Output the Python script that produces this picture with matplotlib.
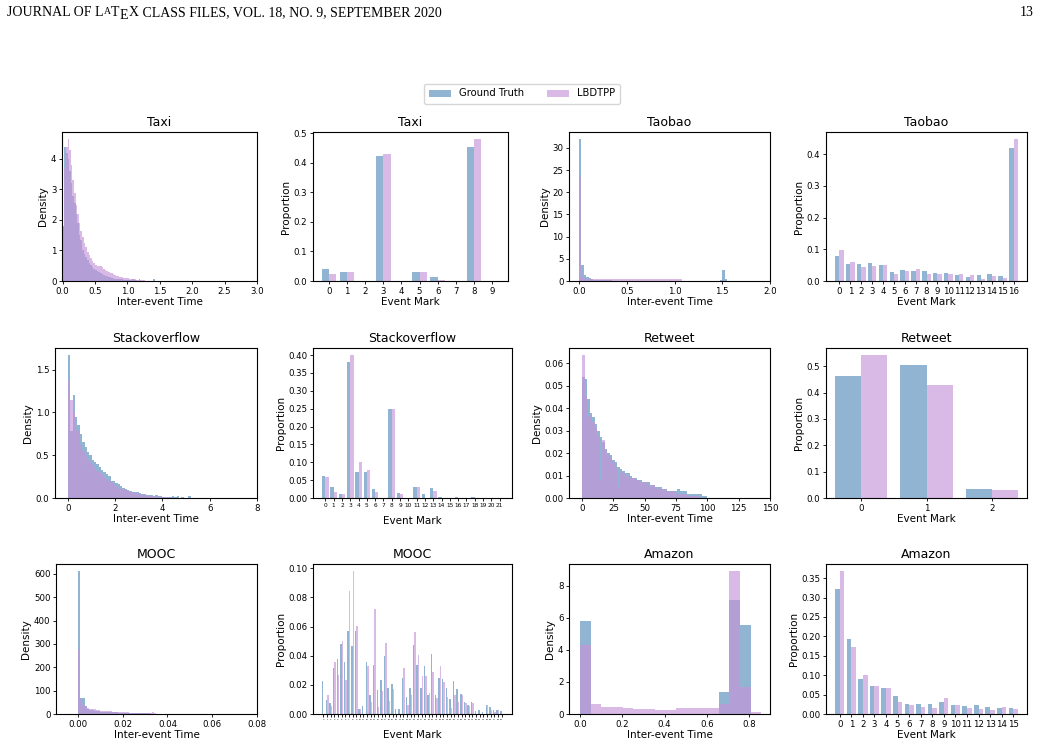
import numpy as np
import matplotlib
matplotlib.use("Agg")
import matplotlib.pyplot as plt
from matplotlib.patches import Patch
from matplotlib.ticker import MultipleLocator

# ── data ───────────────────────────────────────────────────────────────────────
# inter-event time histograms (density per bin, bins start at 0)
taxi_dt_w = 0.025
taxi_dt_gt = [1.8, 4.4, 4.2, 4.0, 3.6, 3.2, 2.8, 2.55, 2.2, 1.9, 1.5, 1.35, 1.0, 0.9, 0.8,
              0.7, 0.6, 0.52, 0.46, 0.4, 0.36, 0.32, 0.28, 0.25, 0.22, 0.2, 0.17, 0.15, 0.13,
              0.12, 0.1, 0.09, 0.08, 0.07, 0.06, 0.06, 0.05, 0.04, 0.04, 0.03, 0.03, 0.02,
              0.03, 0.05, 0.02, 0.02, 0.01, 0.05, 0.01, 0.01, 0.01, 0.01, 0.01, 0.01, 0.01,
              0.01, 0.05]
taxi_dt_lb = [0.5, 3.7, 4.4, 4.65, 4.3, 3.8, 3.3, 2.9, 2.5, 2.2, 1.9, 1.65, 1.45, 1.25, 1.1,
              0.95, 0.85, 0.75, 0.65, 0.6, 0.52, 0.5, 0.48, 0.5, 0.45, 0.4, 0.35, 0.33, 0.3,
              0.27, 0.25, 0.22, 0.2, 0.17, 0.15, 0.13, 0.12, 0.11, 0.1, 0.1, 0.09, 0.08, 0.07,
              0.06, 0.05, 0.04, 0.04, 0.03, 0.02, 0.02, 0.02, 0.01]

taobao_dt_w = 0.025
taobao_dt_gt = [32, 3.7, 1.4, 1.0, 0.6, 0.4, 0.3, 0.25, 0.2, 0.18, 0.15, 0.15, 0.12, 0.12,
                0.1, 0.1, 0.1, 0.1, 0.1, 0.1, 0.1, 0.1, 0.1, 0.1, 0.1, 0.1, 0.1, 0.1, 0.1,
                0.1, 0.1, 0.1, 0.1, 0.1, 0.1, 0.1, 0.1, 0.1, 0.1, 0.1, 0.1, 0.1, 0.1, 0.05,
                0.05, 0.05, 0.05, 0.05, 0.05, 0.05, 0.05, 0.05, 0.05, 0.05, 0.05, 0.05, 0.05,
                0.05, 0.05, 0.3, 2.5, 0.45]
taobao_dt_lb = [23.5, 0.9, 0.6, 0.55, 0.5, 0.55, 0.5, 0.45, 0.5, 0.45, 0.5, 0.55, 0.45, 0.5,
                0.5, 0.55, 0.5, 0.45, 0.5, 0.55, 0.5, 0.45, 0.55, 0.5, 0.5, 0.45, 0.5, 0.45,
                0.5, 0.45, 0.4, 0.45, 0.4, 0.45, 0.4, 0.4, 0.4, 0.4, 0.35, 0.4, 0.35, 0.4, 0.35]

so_dt_w = 0.1
so_dt_gt = [1.67, 0.78, 1.2, 0.95, 0.85, 0.75, 0.66, 0.6, 0.54, 0.5, 0.45, 0.42, 0.4, 0.36,
            0.33, 0.3, 0.28, 0.26, 0.2, 0.2, 0.18, 0.16, 0.14, 0.12, 0.1, 0.09, 0.08, 0.075,
            0.07, 0.065, 0.06, 0.05, 0.045, 0.04, 0.035, 0.03, 0.025, 0.03, 0.02, 0.02, 0.015,
            0.01, 0.01, 0.01, 0.02, 0.01, 0.02, 0.005, 0.01, 0.005, 0.005, 0.02]
so_dt_lb = [1.37, 1.15, 1.0, 0.8, 0.78, 0.62, 0.55, 0.5, 0.45, 0.42, 0.4, 0.36, 0.32, 0.3,
            0.28, 0.25, 0.22, 0.2, 0.18, 0.16, 0.14, 0.12, 0.11, 0.1, 0.09, 0.08, 0.07, 0.065,
            0.06, 0.05, 0.045, 0.04, 0.035, 0.03, 0.025, 0.02, 0.02, 0.015, 0.015, 0.01, 0.01,
            0.01, 0.008, 0.005]

rt_dt_w = 2.0
rt_dt_gt = [0.054, 0.053, 0.044, 0.038, 0.036, 0.033, 0.03, 0.027, 0.025, 0.022, 0.02, 0.019,
            0.017, 0.016, 0.014, 0.013, 0.012, 0.011, 0.011, 0.01, 0.009, 0.009, 0.008, 0.008,
            0.007, 0.007, 0.007, 0.006, 0.006, 0.005, 0.005, 0.005, 0.004, 0.004, 0.003, 0.003,
            0.003, 0.003, 0.004, 0.003, 0.003, 0.003, 0.002, 0.002, 0.002, 0.002, 0.002, 0.002,
            0.001, 0.001]
rt_dt_lb = [0.0635, 0.045, 0.036, 0.037, 0.034, 0.031, 0.027, 0.008, 0.026, 0.021, 0.019, 0.018,
            0.016, 0.014, 0.005, 0.012, 0.011, 0.01, 0.01, 0.009, 0.009, 0.008, 0.008, 0.007,
            0.007, 0.007, 0.006, 0.005, 0.006, 0.005, 0.004, 0.004, 0.004, 0.003, 0.003, 0.003,
            0.003, 0.002, 0.002, 0.002, 0.002, 0.002, 0.001, 0.001, 0.001, 0.001, 0.001]

mooc_dt_w = 0.001
mooc_dt_gt = [612, 70, 70, 35, 22, 18, 15, 13, 12, 11, 10, 10, 9, 9, 8, 8, 7, 7, 6, 6, 6, 5, 5,
              5, 4, 4, 4, 3, 3, 3, 3, 3, 2, 2, 2]
mooc_dt_lb = [275, 65, 40, 28, 25, 22, 20, 20, 18, 16, 14, 13, 12, 12, 11, 10, 10, 10, 9, 9, 8,
              7, 7, 6, 6, 6, 5, 5, 4, 4, 4, 3, 4, 8, 3]

amazon_dt_w = 0.0504
amazon_dt_gt = [5.8, 0, 0, 0, 0, 0, 0, 0, 0, 0, 0, 0, 0, 1.35, 7.1, 5.55, 0]
amazon_dt_lb = [4.3, 0.6, 0.42, 0.42, 0.35, 0.3, 0.3, 0.22, 0.22, 0.35, 0.35, 0.35, 0.4, 0.6,
                8.9, 1.7, 0.1]

# event mark proportions
taxi_mk_gt = [0.042, 0.032, 0, 0.422, 0, 0.032, 0.012, 0, 0.453, 0]
taxi_mk_lb = [0.025, 0.029, 0, 0.429, 0, 0.032, 0.004, 0, 0.480, 0]

taobao_mk_gt = [0.079, 0.054, 0.054, 0.057, 0.051, 0.029, 0.035, 0.032, 0.032, 0.026, 0.026,
                0.020, 0.013, 0.020, 0.022, 0.016, 0.419]
taobao_mk_lb = [0.098, 0.060, 0.044, 0.048, 0.051, 0.022, 0.032, 0.038, 0.022, 0.022, 0.022,
                0.022, 0.019, 0.006, 0.016, 0.010, 0.447]

so_mk_gt = [0.063, 0.030, 0.010, 0.380, 0.072, 0.072, 0.024, 0, 0.249, 0.015, 0, 0.032, 0.010,
            0.027, 0.004, 0.001, 0.004, 0.001, 0.004, 0.001, 0.001, 0.001]
so_mk_lb = [0.058, 0.018, 0.012, 0.400, 0.100, 0.078, 0.018, 0, 0.249, 0.012, 0, 0.030, 0,
            0.021, 0, 0, 0, 0, 0, 0, 0, 0]

rt_mk_gt = [0.462, 0.504, 0.036]
rt_mk_lb = [0.542, 0.428, 0.029]

mooc_mk_gt = [0.0225, 0.0095, 0.0075, 0.0315, 0.0375, 0.048, 0.0355, 0.057, 0.0465, 0.057,
              0.0037, 0.0058, 0.0355, 0.0127, 0.0335, 0.0162, 0.023, 0.040, 0.0175, 0.0205,
              0.0037, 0.0037, 0.025, 0.012, 0.0175, 0.047, 0.0335, 0.018, 0.0328, 0.0127,
              0.041, 0.0127, 0.025, 0.024, 0.018, 0.010, 0.0225, 0.017, 0.0135, 0.0085,
              0.006, 0.0085, 0.002, 0.0025, 0.0015, 0.006, 0.0045, 0.0025, 0.003, 0.002]
mooc_mk_lb = [0.0, 0.013, 0.0055, 0.0355, 0.0265, 0.050, 0.023, 0.0845, 0.098, 0.0605,
              0.0037, 0.0, 0.033, 0.0085, 0.072, 0.005, 0.016, 0.0485, 0.009, 0.017,
              0.0, 0.0, 0.0315, 0.0065, 0.0127, 0.056, 0.0403, 0.0258, 0.026, 0.0143,
              0.0285, 0.0107, 0.0328, 0.022, 0.012, 0.004, 0.0127, 0.008, 0.013, 0.0075,
              0.0055, 0.0075, 0.0, 0.0, 0.0, 0.006, 0.003, 0.0015, 0.0025, 0.0]

amazon_mk_gt = [0.323, 0.194, 0.090, 0.072, 0.068, 0.046, 0.025, 0.025, 0.025, 0.030, 0.022,
                0.020, 0.022, 0.018, 0.015, 0.015]
amazon_mk_lb = [0.368, 0.172, 0.100, 0.072, 0.066, 0.030, 0.022, 0.018, 0.015, 0.040, 0.022,
                0.015, 0.012, 0.010, 0.018, 0.012]

# ── style ──────────────────────────────────────────────────────────────────────
GT_C, GT_A = "steelblue", 0.6
LB_C, LB_A = (198 / 255, 149 / 255, 217 / 255), 0.65
TITLE_FS, LABEL_FS, TICK_FS = 9, 7.5, 6.2

W, H = 1041, 748
fig = plt.figure(figsize=(W / 100, H / 100), dpi=100)


def add_ax(left, right, top, bottom):
    return fig.add_axes([left / W, 1 - bottom / H, (right - left) / W, (bottom - top) / H])


def style(ax, title, xlabel, ylabel):
    ax.set_title(title, fontsize=TITLE_FS, pad=4)
    ax.set_xlabel(xlabel, fontsize=LABEL_FS, labelpad=1)
    ax.set_ylabel(ylabel, fontsize=LABEL_FS, labelpad=2)
    ax.tick_params(labelsize=TICK_FS, length=2.5, width=0.6, pad=1.5)
    for s in ax.spines.values():
        s.set_linewidth(0.8)


def time_panel(ax, title, gt, gt_w, lb, lb_w, xlim, xstep, ystep):
    e = np.arange(len(gt) + 1) * gt_w
    ax.hist(e[:-1], bins=e, weights=gt, color=GT_C, alpha=GT_A)
    e = np.arange(len(lb) + 1) * lb_w
    ax.hist(e[:-1], bins=e, weights=lb, color=LB_C, alpha=LB_A)
    ax.set_xlim(*xlim)
    ax.xaxis.set_major_locator(MultipleLocator(xstep))
    ax.yaxis.set_major_locator(MultipleLocator(ystep))
    style(ax, title, "Inter-event Time", "Density")


def mark_panel(ax, title, gt, lb, ystep, xfs=None, xlabelpad=1):
    x = np.arange(len(gt))
    ax.bar(x - 0.2, gt, 0.4, color=GT_C, alpha=GT_A)
    ax.bar(x + 0.2, lb, 0.4, color=LB_C, alpha=LB_A)
    ax.set_xticks(x)
    ax.yaxis.set_major_locator(MultipleLocator(ystep))
    style(ax, title, "Event Mark", "Proportion")
    ax.xaxis.labelpad = xlabelpad
    if xfs is not None:
        ax.tick_params(axis="x", labelsize=xfs, pad=1)


cols = [(313, 512), (569, 770), (826, 1027)]
rows = [(132, 281), (348, 498), (564, 714)]

# row 1
ax = add_ax(62, 257, *rows[0])
time_panel(ax, "Taxi", taxi_dt_gt, taxi_dt_w, taxi_dt_lb, taxi_dt_w, (-0.01, 3.0), 0.5, 1)
ax = add_ax(313, 508, *rows[0])
mark_panel(ax, "Taxi", taxi_mk_gt, taxi_mk_lb, 0.1)
ax = add_ax(*cols[1], *rows[0])
time_panel(ax, "Taobao", taobao_dt_gt, taobao_dt_w, taobao_dt_lb, taobao_dt_w, (-0.105, 2.0), 0.5, 5)
ax = add_ax(*cols[2], *rows[0])
mark_panel(ax, "Taobao", taobao_mk_gt, taobao_mk_lb, 0.1)

# row 2
ax = add_ax(55, 257, *rows[1])
time_panel(ax, "Stackoverflow", so_dt_gt, so_dt_w, so_dt_lb, so_dt_w, (-0.55, 8.0), 2, 0.5)
ax = add_ax(*cols[0], *rows[1])
mark_panel(ax, "Stackoverflow", so_mk_gt, so_mk_lb, 0.05, xfs=4.2, xlabelpad=6)
ax = add_ax(*cols[1], *rows[1])
time_panel(ax, "Retweet", rt_dt_gt, rt_dt_w, rt_dt_lb, rt_dt_w, (-10.4, 150), 25, 0.01)
ax = add_ax(*cols[2], *rows[1])
mark_panel(ax, "Retweet", rt_mk_gt, rt_mk_lb, 0.1)

# row 3
ax = add_ax(56, 257, *rows[2])
time_panel(ax, "MOOC", mooc_dt_gt, mooc_dt_w, mooc_dt_lb, mooc_dt_w, (-0.0098, 0.08), 0.02, 100)
ax = add_ax(*cols[0], *rows[2])
mark_panel(ax, "MOOC", mooc_mk_gt, mooc_mk_lb, 0.02, xfs=1.6, xlabelpad=7)
ax = add_ax(*cols[1], *rows[2])
time_panel(ax, "Amazon", amazon_dt_gt, amazon_dt_w, amazon_dt_lb, amazon_dt_w, (-0.052, 0.898), 0.2, 2)
ax = add_ax(*cols[2], *rows[2])
mark_panel(ax, "Amazon", amazon_mk_gt, amazon_mk_lb, 0.05)

# legend
handles = [Patch(facecolor=GT_C, alpha=GT_A, label="Ground Truth"),
           Patch(facecolor=LB_C, alpha=LB_A, label="LBDTPP")]
fig.legend(handles=handles, loc="center", bbox_to_anchor=(522 / W, 1 - 93.5 / H), ncol=2,
           fontsize=7.2, frameon=True, handlelength=2.2, columnspacing=2.2,
           borderpad=0.5, handletextpad=0.8)

# page header (journal running head, LaTeX logo built from pieces)
renderer = fig.canvas.get_renderer()
serif = "Liberation Serif"
base_y = 1 - 16.5 / H
pieces = [("JOURNAL OF L", 10, 0), ("A", 7, 2.5), ("T", 10, 0), ("E", 10, -2.3), ("X", 10, 0),
          (" CLASS FILES, VOL. 18, NO. 9, SEPTEMBER 2020", 10, 0)]
x = 7.0
for s, fs, dy in pieces:
    t = fig.text(x / W, base_y + dy / H, s, fontsize=fs, family=serif, va="baseline", ha="left")
    x += t.get_window_extent(renderer).width + 0.3
fig.text(1034 / W, base_y, "13", fontsize=10, family=serif, va="baseline", ha="right")

fig.savefig("out.png", dpi=100)
